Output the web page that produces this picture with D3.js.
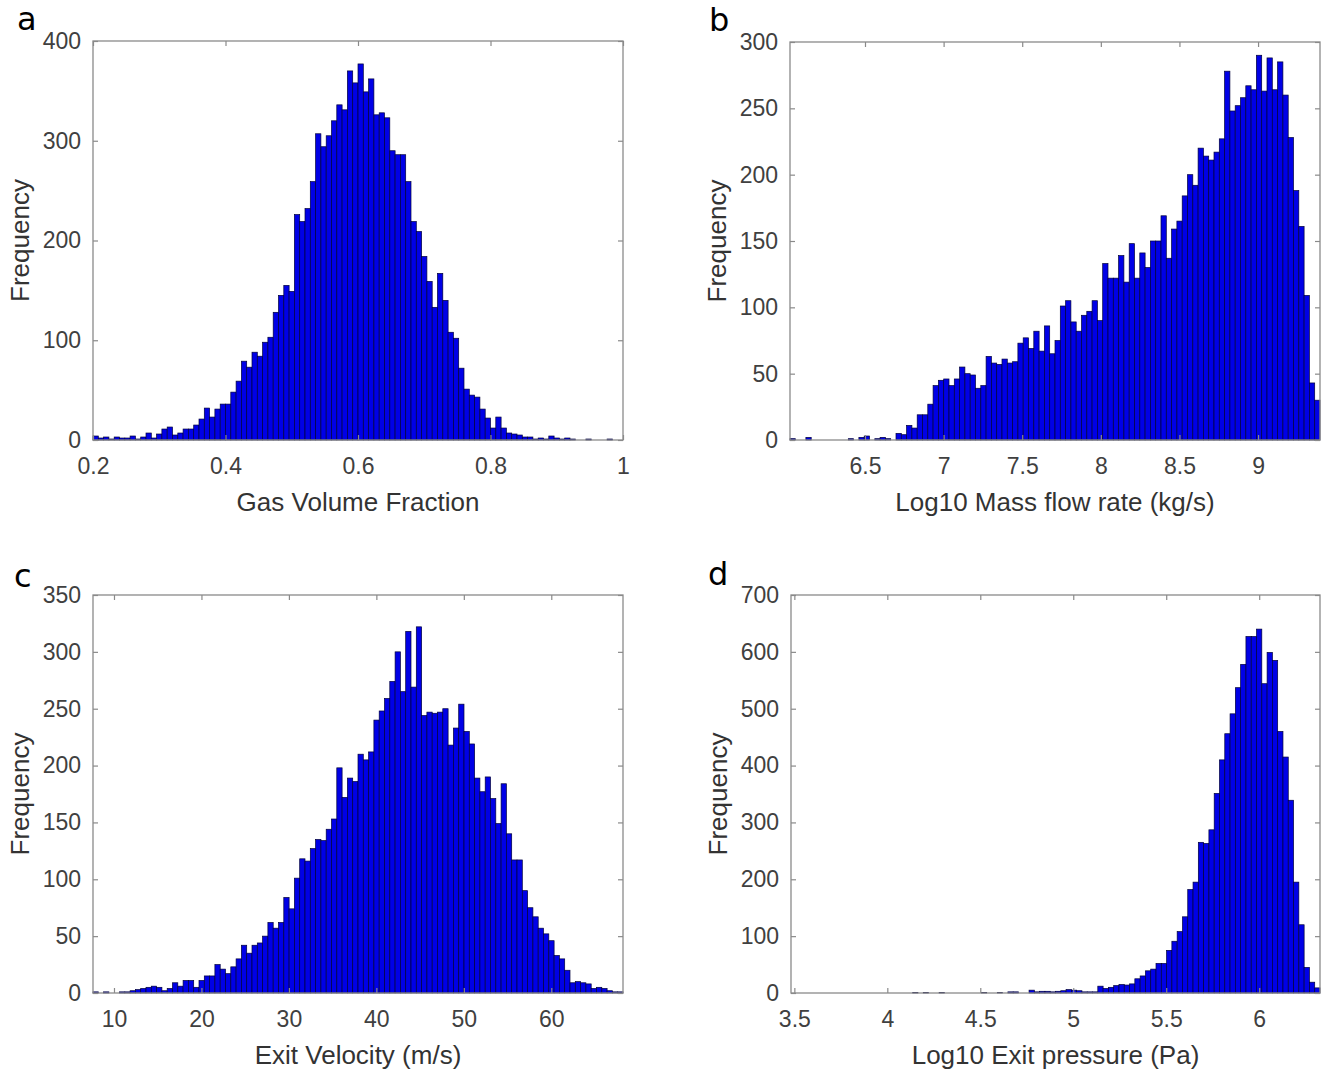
<!DOCTYPE html>
<html>
<head>
<meta charset="utf-8">
<script src="https://cdn.jsdelivr.net/npm/d3@7/dist/d3.min.js"></script>
<style>
  body { margin: 0; background: #fff; }
  .tick text { font-family: "Liberation Sans", Arial, sans-serif; font-size: 23px; fill: #404040; }
  .tick line { stroke: #8a8a8a; stroke-width: 1.2; }
</style>
</head>
<body>
<svg id="fig" width="1325" height="1073"></svg>
<script>

//--- data: histogram counts, 100 bins per panel ---------------------------------------------   //

var gasCounts = [4,2,3,1,3,2,2,4,1,3,7,2,6,11,13,5,7,11,11,15,21,32,23,31,36,36,48,59,79,73,88,84,98,103,128,145,155,149,
    226,219,232,259,307,294,305,320,336,331,370,358,377,
    349,362,326,328,323,290,286,286,259,219,209,184,159,133,167,140,108,102,72,51,45,43,31,22,12,23,12,7,6,5,3,3,1,2,1,4,2,1,2,1,0,0,1,0,0,0,1,0,0];

var massCounts = [1,0,0,2,0,0,0,0,0,0,0,1,0,2,3,0,1,2,1,0,
    5,4,11,9,19,19,27,41,45,46,41,46,55,50,49,39,41,63,58,57,61,58,59,73,77,69,82,67,86,65,
    75,101,105,89,82,94,97,105,90,133,122,122,139,119,148,122,141,130,150,150,
    169,137,159,165,184,200,192,220,214,211,217,227,278,248,252,258,267,264,290,263,
    288,264,285,260,228,188,161,109,43,30];

var velCounts = [1,0,1,0,0,1,1,2,3,4,5,6,5,2,4,9,6,11,11,5,11,15,15,25,21,17,23,30,42,35,42,44,50,62,57,62,84,74,101,118,116,127,135,134,144,153,198,172,189,186,
    210,205,212,240,248,259,274,300,265,318,269,322,244,247,246,247,250,218,233,254,
    230,219,189,177,190,171,149,184,140,117,117,90,75,67,57,52,46,33,30,20,9,10,9,8,4,5,4,2,1,1];

var presCounts = [0,0,0,0,0,0,0,0,0,0,0,0,0,0,0,0,0,0,0,0,0,0,0,1,0,1,0,0,1,0,0,0,0,0,0,0,1,0,0,1,0,2,2,0,0,5,2,3,3,
    2,3,4,6,5,4,2,2,2,12,8,10,13,15,14,16,25,30,39,42,52,52,75,91,108,134,182,195,265,263,
    287,351,410,456,491,537,578,627,627,640,544,599,585,460,415,339,195,120,45,19,9];

// x range covered by the bins
var gasRange  = [0.2, 1.0];
var massRange = [6.023, 9.394];
var velRange  = [7.6, 68.2];
var presRange = [3.482, 6.327];

// ticks
var gasXTicks  = [0.2, 0.4, 0.6, 0.8, 1];
var massXTicks = [6.5, 7, 7.5, 8, 8.5, 9];
var velXTicks  = [10, 20, 30, 40, 50, 60];
var presXTicks = [3.5, 4, 4.5, 5, 5.5, 6];

var gasYTicks  = [0, 100, 200, 300, 400];
var massYTicks = [0, 50, 100, 150, 200, 250, 300];
var velYTicks  = [0, 50, 100, 150, 200, 250, 300, 350];
var presYTicks = [0, 100, 200, 300, 400, 500, 600, 700];

var letters = ["a", "b", "c", "d"];
var xLabels = ["Gas Volume Fraction", "Log10 Mass flow rate (kg/s)", "Exit Velocity (m/s)", "Log10 Exit pressure (Pa)"];


//--- layout --------------------------------------------------------------------------------   //

var panels = [
    {counts: gasCounts,  range: gasRange,  xt: gasXTicks,  yt: gasYTicks,  ymax: 400, box: [93, 623, 41, 440],   letter: [17, 30]},
    {counts: massCounts, range: massRange, xt: massXTicks, yt: massYTicks, ymax: 300, box: [790, 1320, 42, 440], letter: [709, 31]},
    {counts: velCounts,  range: velRange,  xt: velXTicks,  yt: velYTicks,  ymax: 350, box: [93, 623, 595, 993],  letter: [14, 587]},
    {counts: presCounts, range: presRange, xt: presXTicks, yt: presYTicks, ymax: 700, box: [791, 1320, 595, 993], letter: [708, 585]}
];

var svg = d3.select("#fig");
var fmt = d3.format("~g");

panels.forEach(function(p, k) {

    var x0 = p.box[0], x1 = p.box[1], y0 = p.box[2], y1 = p.box[3];

    var x = d3.scaleLinear().domain(p.range).range([x0, x1]);
    var y = d3.scaleLinear().domain([0, p.ymax]).range([y1, y0]);

    var n = p.counts.length;
    var bw = (p.range[1] - p.range[0]) / n;

    var g = svg.append("g");

    g.selectAll("rect")
        .data(p.counts.map(function(c, i) { return {i: i, c: c}; }).filter(function(d) { return d.c > 0; }))
        .enter()
        .append("rect")
        .attr("x", function(d) { return x(p.range[0] + d.i * bw); })
        .attr("width", function(d) { return x(p.range[0] + (d.i + 1) * bw) - x(p.range[0] + d.i * bw); })
        .attr("y", function(d) { return y(d.c); })
        .attr("height", function(d) { return y(0) - y(d.c); })
        .attr("fill", "#0000e6")
        .attr("stroke", "#00003a")
        .attr("stroke-width", 0.7);

    // ticks all round, pointing inwards
    g.append("g").attr("transform", "translate(0," + y1 + ")")
        .call(d3.axisBottom(x).tickValues(p.xt).tickFormat(fmt).tickSizeInner(-5).tickSizeOuter(0).tickPadding(18));
    g.append("g").attr("transform", "translate(0," + y0 + ")")
        .call(d3.axisTop(x).tickValues(p.xt).tickFormat("").tickSizeInner(-5).tickSizeOuter(0));
    g.append("g").attr("transform", "translate(" + x0 + ",0)")
        .call(d3.axisLeft(y).tickValues(p.yt).tickFormat(fmt).tickSizeInner(-5).tickSizeOuter(0).tickPadding(12));
    g.append("g").attr("transform", "translate(" + x1 + ",0)")
        .call(d3.axisRight(y).tickValues(p.yt).tickFormat("").tickSizeInner(-5).tickSizeOuter(0));

    g.selectAll(".domain").remove();
    g.selectAll(".tick text").attr("fill", "#404040");

    g.append("rect")
        .attr("x", x0).attr("y", y0)
        .attr("width", x1 - x0).attr("height", y1 - y0)
        .attr("fill", "none")
        .attr("stroke", "#8a8a8a")
        .attr("stroke-width", 1.3);

    g.append("text")
        .attr("x", (x0 + x1) / 2)
        .attr("y", y1 + 71)
        .attr("text-anchor", "middle")
        .attr("font-family", "Liberation Sans, Arial, sans-serif")
        .attr("font-size", 26)
        .attr("fill", "#333")
        .text(xLabels[k]);

    g.append("text")
        .attr("transform", "translate(" + (x0 - 64) + "," + ((y0 + y1) / 2) + ") rotate(-90)")
        .attr("text-anchor", "middle")
        .attr("font-family", "Liberation Sans, Arial, sans-serif")
        .attr("font-size", 26)
        .attr("fill", "#333")
        .text("Frequency");

    svg.append("text")
        .attr("x", p.letter[0])
        .attr("y", p.letter[1])
        .attr("font-family", "DejaVu Sans, sans-serif")
        .attr("font-size", 32)
        .attr("fill", "#000")
        .text(letters[k]);
});

</script>
</body>
</html>
